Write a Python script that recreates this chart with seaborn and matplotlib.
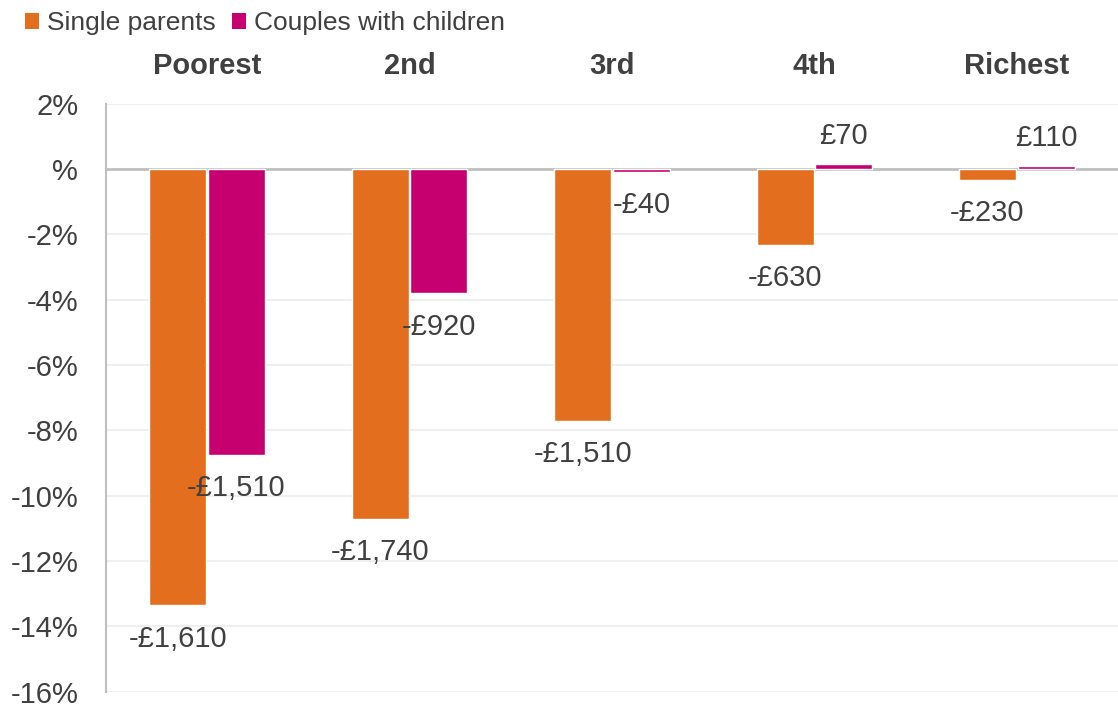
import matplotlib
matplotlib.use("Agg")
import matplotlib.pyplot as plt
import seaborn as sns
import pandas as pd
from matplotlib.patches import Patch

categories = ["Poorest", "2nd", "3rd", "4th", "Richest"]
series_names = ["Single parents", "Couples with children"]
single_vals = [-13.35, -10.7, -7.7, -2.32, -0.33]
couple_vals = [-8.75, -3.8, -0.09, 0.15, 0.1]
single_labels = ["-£1,610", "-£1,740", "-£1,510", "-£630", "-£230"]
couple_labels = ["-£1,510", "-£920", "-£40", "£70", "£110"]
ytick_vals = [2, 0, -2, -4, -6, -8, -10, -12, -14, -16]
ytick_labels = ["2%", "%", "-2%", "-4%", "-6%", "-8%", "-10%", "-12%", "-14%", "-16%"]
colors = ["#E36F1E", "#C6006F"]

df = pd.DataFrame({
    "group": categories * 2,
    "series": [series_names[0]] * 5 + [series_names[1]] * 5,
    "value": single_vals + couple_vals,
})

sns.set_theme(style="white")
plt.rcParams["font.family"] = ["Liberation Sans", "DejaVu Sans"]
txt = "#404040"

fig = plt.figure(figsize=(11.18, 7.11), dpi=100)
ax = fig.add_axes([0.0948, 0.027, 0.9052, 0.827])

sns.barplot(data=df, x="group", y="value", hue="series", order=categories,
            hue_order=series_names, palette=colors, width=0.58, gap=0.03,
            saturation=1, ax=ax, legend=False, zorder=2)

ax.set_xlim(-0.5, 4.5)
ax.set_ylim(-16, 2)
ax.set_yticks(ytick_vals)
ax.set_yticklabels(ytick_labels, fontsize=21, color=txt)
ax.tick_params(axis="y", length=0, pad=20)
ax.xaxis.tick_top()
ax.set_xticks(range(len(categories)))
ax.set_xticklabels(categories, fontsize=21, fontweight="bold", color=txt)
ax.tick_params(axis="x", length=0, pad=17)
ax.set_xlabel("")
ax.set_ylabel("")

for y in ytick_vals:
    if y != 0:
        ax.axhline(y, color="#EFEFEF", lw=1.5, zorder=0)
ax.axhline(0, color="#BFBFBF", lw=2, zorder=1)

for s in ["top", "right", "bottom"]:
    ax.spines[s].set_visible(False)
ax.spines["left"].set_color("#BFBFBF")
ax.spines["left"].set_linewidth(1.5)

for cont, labs, vals in zip(ax.containers, [single_labels, couple_labels],
                            [single_vals, couple_vals]):
    for bar, lab, v in zip(cont, labs, vals):
        x = bar.get_x() + bar.get_width() / 2
        ax.annotate(lab, (x, v), xytext=(0, -24 if v < 0 else 20),
                    textcoords="offset points", ha="center", va="center",
                    fontsize=21, color=txt)

handles = [Patch(facecolor=c, edgecolor="none") for c in colors]
fig.legend(handles, series_names, loc="upper left", bbox_to_anchor=(0.001, 1.018),
           ncol=2, frameon=False, fontsize=19, handlelength=0.55, handleheight=0.55,
           handletextpad=0.3, columnspacing=0.6, labelcolor=txt)

fig.savefig("out.png", dpi=100)
